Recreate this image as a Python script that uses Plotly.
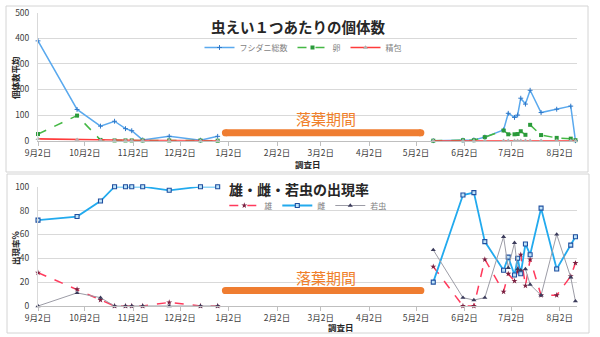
import plotly.graph_objects as go

# ---------------- data ----------------
fall_dates = ["2018-09-02", "2018-09-27", "2018-10-12", "2018-10-21", "2018-10-28",
              "2018-11-01", "2018-11-08", "2018-11-25", "2018-12-15", "2018-12-26"]
spring_dates = ["2019-05-13", "2019-06-01", "2019-06-08", "2019-06-15", "2019-06-27",
                "2019-06-30", "2019-07-04", "2019-07-06", "2019-07-08", "2019-07-11",
                "2019-07-14", "2019-07-21", "2019-07-31", "2019-08-09", "2019-08-12"]

# top chart: individuals per gall
mite_total_fall = [390, 122, 57, 76, 47, 39, 3, 17, 2, 17]
mite_total_spring = [0, 2, 3, 14, 42, 107, 91, 100, 166, 143, 197, 110, 123, 135, 0]
egg_fall = [26, 98, 3, 1, 1, 1, 1, 1, 1, 0]
egg_spring = [0, 2, 2, 14, 40, 25, 25, 26, 37, 23, 62, 22, 11, 8, 2]
sperm_fall = [7, 4, 2, 1.5, 1, 1, 1, 0.5, 0, 0]
sperm_spring = [0, 0, 0, 0, 0, 0, 0, 0, 0, 0, 0, 0, 0, 0, 0]

# bottom chart: appearance rate (%)
male_fall = [28, 14, 5, 0, 0, 0, 0, 3, 0, 0]
male_spring = [33, 0, 0, 39, 12, 27, 21, 29, 43, 17, 39, 9, 9, 25, 36]
female_fall = [72, 75, 88, 100, 100, 100, 100, 97, 100, 100]
female_spring = [20, 93, 95, 54, 30, 41, 26, 40, 27, 52, 43, 82, 31, 51, 58]
nymph_fall = [0, 11, 7, 0, 0, 0, 0, 0, 0, 0]
nymph_spring = [47, 7, 5, 7, 58, 32, 53, 31, 30, 31, 18, 9, 60, 24, 4]

tick_dates = ["2018-09-02", "2018-10-02", "2018-11-02", "2018-12-02", "2019-01-02",
              "2019-02-02", "2019-03-02", "2019-04-02", "2019-05-02", "2019-06-02",
              "2019-07-02", "2019-08-02"]
tick_labels = ["9月2日", "10月2日", "11月2日", "12月2日", "1月2日", "2月2日",
               "3月2日", "4月2日", "5月2日", "6月2日", "7月2日", "8月2日"]

top_names = ["フシダニ総数", "卵", "精包"]
bottom_names = ["雄", "雌", "若虫"]
leaf_fall_label = "落葉期間"

# ---------------- helpers ----------------
FONT = "Noto Sans CJK JP"
W, H = 600, 337


def px(v):
    return v / W


def py(v):
    return (H - v) / H


def joined(a, b):
    return a + [None] + b


xs = joined(fall_dates, spring_dates)

fig = go.Figure()

# top chart traces
fig.add_trace(go.Scatter(
    x=xs, y=joined(mite_total_fall, mite_total_spring), name=top_names[0],
    mode="lines+markers", line=dict(color="#5aa9ee", width=1.5),
    marker=dict(symbol="cross-thin", size=3.5, line=dict(color="#2f78c8", width=1)),
    xaxis="x", yaxis="y", legend="legend", cliponaxis=False))
fig.add_trace(go.Scatter(
    x=xs, y=joined(egg_fall, egg_spring), name=top_names[1],
    mode="lines+markers", line=dict(color="#45b845", width=1.5, dash="dash"),
    marker=dict(symbol="square", size=4, color="#2a9a3a"),
    xaxis="x", yaxis="y", legend="legend", cliponaxis=False))
fig.add_trace(go.Scatter(
    x=xs, y=joined(sperm_fall, sperm_spring), name=top_names[2],
    mode="lines+markers", line=dict(color="#ff3b3b", width=1.6),
    marker=dict(symbol="triangle-up", size=4.5, color="#b0b0b0"),
    xaxis="x", yaxis="y", legend="legend", cliponaxis=False))

# bottom chart traces
fig.add_trace(go.Scatter(
    x=xs, y=joined(male_fall, male_spring), name=bottom_names[0],
    mode="lines+markers", line=dict(color="#ff3a5c", width=1.5, dash="dash"),
    marker=dict(symbol="star", size=4.5, color="#7a1f40"),
    xaxis="x2", yaxis="y2", legend="legend2", cliponaxis=False))
fig.add_trace(go.Scatter(
    x=xs, y=joined(female_fall, female_spring), name=bottom_names[1],
    mode="lines+markers", line=dict(color="#22aaee", width=1.8),
    marker=dict(symbol="square", size=4, color="#bfe4fa", line=dict(color="#1f4f9f", width=1.1)),
    xaxis="x2", yaxis="y2", legend="legend2", cliponaxis=False))
fig.add_trace(go.Scatter(
    x=xs, y=joined(nymph_fall, nymph_spring), name=bottom_names[2],
    mode="lines+markers", line=dict(color="#9c9ca6", width=1),
    marker=dict(symbol="triangle-up", size=4.5, color="#3b3b5b"),
    xaxis="x2", yaxis="y2", legend="legend2", cliponaxis=False))

X_RANGE = ["2018-09-02", "2019-08-13"]
tickfont = dict(family=FONT, size=8.5, color="#404040")

xcommon = dict(type="date", range=X_RANGE, domain=[px(38), px(577)],
               tickmode="array", tickvals=tick_dates, ticktext=tick_labels,
               ticks="outside", ticklen=4, tickcolor="#bfbfbf",
               showline=True, linecolor="#bfbfbf", linewidth=1, automargin=False,
               showgrid=False, zeroline=False, tickfont=tickfont, fixedrange=True)
ycommon = dict(showgrid=True, gridcolor="#d9d9d9", gridwidth=1.2, automargin=False,
               showline=True, linecolor="#d9d9d9", zeroline=False,
               tickfont=tickfont, ticklabelstandoff=6, fixedrange=True)

fig.update_layout(
    width=W, height=H, margin=dict(l=0, r=0, t=0, b=0),
    paper_bgcolor="white", plot_bgcolor="white",
    font=dict(family=FONT),
    xaxis=dict(**xcommon, anchor="y"),
    yaxis=dict(**ycommon, anchor="x", domain=[py(140.7), py(12.7)],
               range=[0, 500], dtick=100),
    xaxis2=dict(**xcommon, anchor="y2"),
    yaxis2=dict(**ycommon, anchor="x2", domain=[py(306), py(186.7)],
                range=[0, 100], dtick=20),
    legend=dict(orientation="h", x=0.505, xanchor="center", y=py(47.5), yanchor="middle",
                font=dict(family=FONT, size=8, color="#7f7f7f"),
                bgcolor="rgba(0,0,0,0)", itemwidth=30, tracegroupgap=0),
    legend2=dict(orientation="h", x=0.513, xanchor="center", y=py(205.5), yanchor="middle",
                 font=dict(family=FONT, size=8, color="#7f7f7f"),
                 bgcolor="rgba(0,0,0,0)", itemwidth=30),
    showlegend=True,
)

shapes = []
# chart borders
shapes.append(dict(type="rect", xref="paper", yref="paper", x0=px(6), x1=px(588),
                   y0=py(172), y1=py(6), line=dict(color="#d4d4d4", width=1)))
shapes.append(dict(type="rect", xref="paper", yref="paper", x0=px(7), x1=px(589),
                   y0=py(333), y1=py(174), line=dict(color="#d4d4d4", width=1)))

ORANGE = "#ef7d31"
for xr, yr, yv in (("x", "y", 31), ("x2", "y2", 13)):
    shapes.append(dict(type="rect", xref=xr, yref=yr, x0="2018-12-31", x1="2019-05-05",
                       ysizemode="pixel", yanchor=yv, y0=-3.6, y1=3.6,
                       fillcolor=ORANGE, line=dict(width=0), layer="above"))
    for xa in ("2018-12-31", "2019-05-05"):
        shapes.append(dict(type="circle", xref=xr, yref=yr,
                           xsizemode="pixel", xanchor=xa, x0=-3.6, x1=3.6,
                           ysizemode="pixel", yanchor=yv, y0=-3.6, y1=3.6,
                           fillcolor=ORANGE, line=dict(width=0), layer="above"))
fig.update_layout(shapes=shapes)

ann = []
ann.append(dict(text="<b>虫えい１つあたりの個体数</b>", xref="paper", yref="paper",
                x=px(298), y=py(27), showarrow=False, xanchor="center", yanchor="middle",
                font=dict(family=FONT, size=14.5, color="#262626")))
ann.append(dict(text="<b>雄・雌・若虫の出現率</b>", xref="paper", yref="paper",
                x=px(299), y=py(189), showarrow=False, xanchor="center", yanchor="middle",
                font=dict(family=FONT, size=14, color="#262626")))
ann.append(dict(text="<b>個体数平均</b>", xref="paper", yref="paper", x=px(15), y=py(78),
                showarrow=False, textangle=-90, xanchor="center", yanchor="middle",
                font=dict(family=FONT, size=8.5, color="#262626")))
ann.append(dict(text="<b>出現率%</b>", xref="paper", yref="paper", x=px(15), y=py(248),
                showarrow=False, textangle=-90, xanchor="center", yanchor="middle",
                font=dict(family=FONT, size=8.5, color="#262626")))
ann.append(dict(text="<b>調査日</b>", xref="paper", yref="paper", x=px(308), y=py(163.5),
                showarrow=False, xanchor="center", yanchor="middle",
                font=dict(family=FONT, size=8.5, color="#262626")))
ann.append(dict(text="<b>調査日</b>", xref="paper", yref="paper", x=px(341), y=py(327),
                showarrow=False, xanchor="center", yanchor="middle",
                font=dict(family=FONT, size=8.5, color="#262626")))
ann.append(dict(text=leaf_fall_label, xref="paper", yref="paper", x=px(326), y=py(118),
                showarrow=False, xanchor="center", yanchor="middle",
                font=dict(family=FONT, size=15, color="#f07f2a")))
ann.append(dict(text=leaf_fall_label, xref="paper", yref="paper", x=px(326), y=py(277),
                showarrow=False, xanchor="center", yanchor="middle",
                font=dict(family=FONT, size=15, color="#f07f2a")))
fig.update_layout(annotations=ann)

fig.write_html("out.html")
